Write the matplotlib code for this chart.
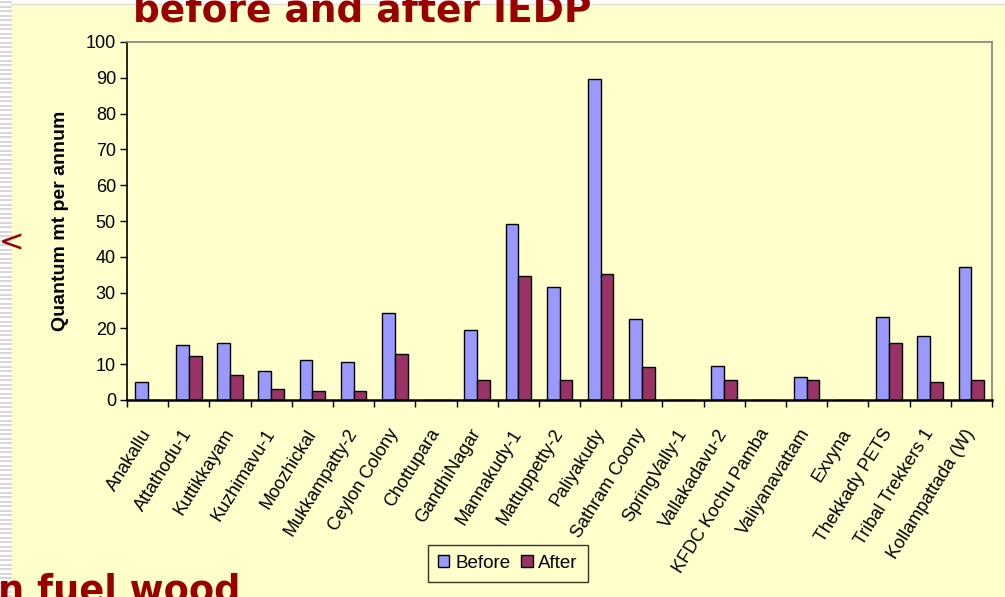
import matplotlib
matplotlib.use("Agg")
import matplotlib.pyplot as plt
import numpy as np

# fuel wood use per site, before and after IEDP (mt per annum)
sites = [
    "Anakallu", "Attathodu-1", "Kuttikkayam", "Kuzhimavu-1", "Moozhickal",
    "Mukkampatty-2", "Ceylon Colony", "Chottupara", "GandhiNagar", "Mannakudy-1",
    "Mattuppetty-2", "Paliyakudy", "Sathram Coony", "SpringVally-1", "Vallakadavu-2",
    "KFDC Kochu Pamba", "Valiyanavattam", "Exvyna", "Thekkady PETS",
    "Tribal Trekkers 1", "Kollampattada (W)",
]
before = [5, 15.4, 15.9, 8.2, 11.2, 10.7, 24.2, 0, 19.5, 49.2,
          31.5, 89.7, 22.6, 0, 9.6, 0, 6.5, 0, 23.2, 18, 37.2]
after = [0, 12.2, 7.1, 3.1, 2.4, 2.4, 12.8, 0, 5.6, 34.6,
         5.6, 35.2, 9.1, 0, 5.6, 0, 5.6, 0, 16, 5, 5.6]

YELLOW = "#FFFFCC"
DARK_RED = "#990000"

plt.rcParams["font.family"] = ["Liberation Sans", "DejaVu Sans"]

fig = plt.figure(figsize=(10.05, 5.97), dpi=100)
fig.patch.set_facecolor("white")

# slide background: striped left margin + yellow panel
bg = fig.add_axes([0, 0, 1, 1])
bg.set_xlim(0, 1005)
bg.set_ylim(597, 0)
bg.axis("off")
for yy in np.arange(2, 597, 4.5):
    bg.plot([0, 11], [yy, yy], color="#D0D0D0", lw=1.2)
bg.add_patch(plt.Rectangle((11, 5), 994, 600, facecolor=YELLOW, edgecolor="none"))
bg.plot([11, 1005], [4, 4], color="#DDDDDD", lw=1)

fig.text(133 / 1005, 1 - 22 / 597, "before and after IEDP", family="DejaVu Sans",
         fontsize=27, fontweight="bold", color=DARK_RED, va="baseline")
fig.text(-2 / 1005, 1 - 601 / 597, "n fuel wood", family="DejaVu Sans",
         fontsize=26.5, fontweight="bold", color=DARK_RED, va="baseline")
fig.text(-1 / 1005, 1 - 243 / 597, "<", family="DejaVu Sans", fontsize=22,
         color=DARK_RED, va="center")

ax = fig.add_axes([127 / 1005, 1 - 400 / 597, (992 - 127) / 1005, (400 - 42) / 597])
ax.set_facecolor(YELLOW)

x = np.arange(len(sites))
w = 0.31
ax.bar(x - w / 2, before, w, color="#9999FF", edgecolor="black", linewidth=1, label="Before")
ax.bar(x + w / 2, after, w, color="#993366", edgecolor="black", linewidth=1, label="After")

ax.set_xlim(-0.5, len(sites) - 0.5)
ax.set_ylim(0, 100)
ax.set_yticks(range(0, 101, 10))
ax.set_xticks(np.arange(-0.5, len(sites), 1.0))
ax.set_xticklabels([])
ax.set_xticks(x, minor=True)
ax.set_xticklabels(sites, minor=True, rotation=58, ha="right", va="center",
                   rotation_mode="anchor", fontsize=13)
ax.tick_params(axis="x", which="minor", length=0, pad=22)
ax.tick_params(axis="x", which="major", direction="out", length=5, width=1)
ax.tick_params(axis="y", direction="out", length=5, width=1, labelsize=13, pad=3)

for side in ("top", "right"):
    ax.spines[side].set_color("#808080")
    ax.spines[side].set_linewidth(1.2)
ax.spines["left"].set_linewidth(1.2)
ax.spines["bottom"].set_linewidth(1.8)

ax.set_ylabel("Quantum mt per annum", fontsize=14, fontweight="bold", labelpad=12)

leg = fig.legend(loc="center", bbox_to_anchor=(508 / 1005, 1 - 563.5 / 597), ncol=2,
                 fontsize=13.5, frameon=True, fancybox=False, handlelength=0.6,
                 handleheight=0.6, handletextpad=0.3, columnspacing=0.6,
                 borderpad=0.55)
leg.get_frame().set_edgecolor("black")
leg.get_frame().set_facecolor(YELLOW)
leg.get_frame().set_linewidth(1)

fig.savefig("out.png", dpi=100, facecolor=fig.get_facecolor())
